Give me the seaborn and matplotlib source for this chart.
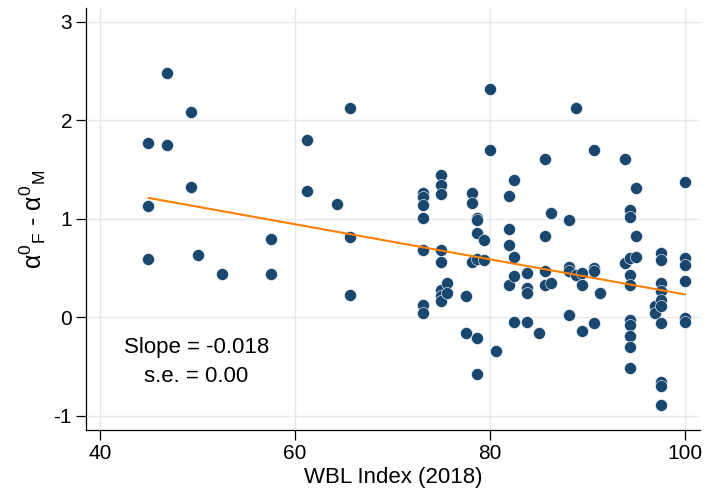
import numpy as np
import pandas as pd
import matplotlib
matplotlib.use("Agg")
import matplotlib.pyplot as plt
import seaborn as sns

# WBL index and alpha gap, grouped by index value
wbl = (
    [46.84, 49.37, 44.96, 46.84, 49.37, 44.96, 44.96, 50.0, 52.5, 57.5, 57.5,
     61.2, 61.2, 64.3, 65.6, 65.6, 65.6]
    + [73.1] * 7 + [75.0] * 8 + [75.6] * 2 + [77.5] * 2 + [78.1] * 3
    + [78.7] * 6 + [79.4] * 2 + [80.0] * 2 + [80.6] + [81.9] * 4
    + [82.5] * 4 + [83.8] * 4 + [85.0] + [85.6] * 4 + [86.3] * 2
    + [88.1] * 4 + [88.8] * 2 + [89.4] * 3 + [90.7] * 4 + [91.3]
    + [93.8] * 2 + [94.4] * 10 + [95.0] * 3 + [96.9] * 2 + [97.5] * 10
    + [100.0] * 6
)
alpha_gap = [
    2.48, 2.08, 1.77, 1.75, 1.32, 1.13, 0.59, 0.63, 0.44, 0.79, 0.44,
    1.80, 1.28, 1.15, 2.12, 0.81, 0.23,
    1.26, 1.22, 1.14, 1.01, 0.68, 0.12, 0.04,          # 73.1
    1.44, 1.34, 1.25, 0.68, 0.565, 0.28, 0.22, 0.17,   # 75.0
    0.35, 0.25,                                        # 75.6
    0.22, -0.16,                                       # 77.5
    1.26, 1.16, 0.565,                                 # 78.1
    1.01, 0.99, 0.86, 0.59, -0.21, -0.58,              # 78.7
    0.78, 0.58,                                        # 79.4
    2.32, 1.70,                                        # 80.0
    -0.34,                                             # 80.6
    1.235, 0.90, 0.73, 0.33,                           # 81.9
    1.39, 0.61, 0.42, -0.045,                          # 82.5
    0.45, 0.30, 0.25, -0.045,                          # 83.8
    -0.16,                                             # 85.0
    1.61, 0.82, 0.47, 0.33,                            # 85.6
    1.06, 0.345,                                       # 86.3
    0.99, 0.51, 0.47, 0.02,                            # 88.1
    2.12, 0.43,                                        # 88.8
    0.45, 0.33, -0.14,                                 # 89.4
    1.70, 0.50, 0.47, -0.06,                           # 90.7
    0.25,                                              # 91.3
    1.61, 0.555,                                       # 93.8
    1.09, 1.02, 0.60, 0.43, 0.33, -0.03, -0.08, -0.19, -0.30, -0.51,  # 94.4
    1.31, 0.82, 0.615,                                 # 95.0
    0.11, 0.04,                                        # 96.9
    0.655, 0.58, 0.345, 0.27, 0.18, 0.11, -0.055, -0.66, -0.70, -0.89,  # 97.5
    1.37, 0.60, 0.53, 0.37, -0.01, -0.05,              # 100
]

# fitted line as reported in the figure
fit_intercept = 2.012
fit_slope = -0.0178

x_ticks = [40, 60, 80, 100]
y_ticks = [-1, 0, 1, 2, 3]
slope_text = "Slope = -0.018\ns.e. = 0.00"

df = pd.DataFrame({"wbl": wbl, "gap": alpha_gap})
fit_x = [min(wbl), max(wbl)]
fit = pd.DataFrame({"wbl": fit_x,
                    "gap": [fit_intercept + fit_slope * v for v in fit_x]})

sns.set_theme(style="whitegrid")
plt.rcParams["font.family"] = ["Liberation Sans", "DejaVu Sans"]
plt.rcParams["mathtext.fontset"] = "custom"
plt.rcParams["mathtext.rm"] = "Liberation Sans"
plt.rcParams["mathtext.it"] = "Liberation Sans"
plt.rcParams["axes.unicode_minus"] = False

fig = plt.figure(figsize=(7.05, 4.92), dpi=100)
ax = fig.add_axes([0.122, 0.126, 0.871, 0.858])

sns.scatterplot(data=df, x="wbl", y="gap", ax=ax, s=75, color="#1a476f",
                edgecolor="white", linewidth=0.4, zorder=3)
sns.lineplot(data=fit, x="wbl", y="gap", ax=ax, color="#ff7f00", lw=1.5,
             zorder=4)

ax.set_xlim(38.56, 101.54)
ax.set_ylim(-1.144, 3.14)
ax.set_xticks(x_ticks)
ax.set_yticks(y_ticks)

ax.grid(True, color="#e8e8e8", lw=1.0)
ax.set_axisbelow(True)
for side in ["top", "right"]:
    ax.spines[side].set_visible(False)
for side in ["left", "bottom"]:
    ax.spines[side].set_color("black")
    ax.spines[side].set_linewidth(0.9)
ax.tick_params(axis="both", which="major", direction="out", length=7, width=0.9,
               color="black", labelsize=15, labelcolor="black", pad=3,
               left=True, bottom=True)

ax.set_xlabel("WBL Index (2018)", fontsize=16, color="black", labelpad=3)
ax.set_ylabel(r"α$^{0}$$_{\mathrm{F}}$ - α$^{0}$$_{\mathrm{M}}$",
              fontsize=18, color="black", labelpad=4)

ax.text(49.9, -0.45, slope_text, ha="center", va="center", fontsize=16,
        color="black", linespacing=1.5)

fig.savefig("out.png", dpi=100, facecolor="white")
